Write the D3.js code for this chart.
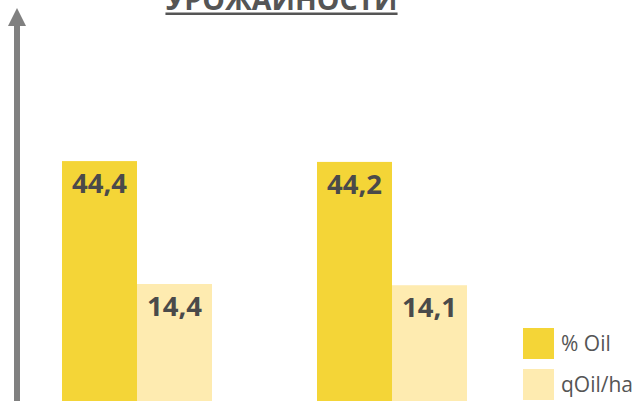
<!DOCTYPE html>
<html lang="ru">
<head>
<meta charset="UTF-8">
<title>Урожайности</title>
<script src="https://d3js.org/d3.v7.min.js"></script>
<style>
  body { margin: 0; background: #fff; }
  text { font-family: "Open Sans", sans-serif; }
  .val { font-weight: 700; fill: #4a4a4a; font-size: 27.5px; }
  .leg { fill: #555; font-size: 21px; }
  .title { font-weight: 700; fill: #555; font-size: 28.5px; }
</style>
</head>
<body>
<div class="chart"></div>
<script>
var groups = ["A", "B"];
var series = ["% Oil", "qOil/ha"];
var oil = [44.4, 44.2];
var qoil = [14.4, 14.1];
var labels = [["44,4", "14,4"], ["44,2", "14,1"]];
var colors = ["#f4d537", "#feebb0"];

var w = 636, h = 401;
var svg = d3.select(".chart").append("svg")
    .attr("width", w).attr("height", h);

// group positions
var x0 = d3.scaleBand().domain(groups).range([62, 467]).paddingInner(105 / 255);
var x1 = d3.scaleBand().domain(series).range([0, x0.bandwidth()]);
var y = d3.scaleLinear().domain([0, 44.3]).range([343, 161.5]);

var rows = groups.map(function(g, i) {
  return { g: g, vals: [oil[i], qoil[i]], lab: labels[i] };
});

var gg = svg.selectAll(".grp").data(rows).enter().append("g")
    .attr("transform", function(d) { return "translate(" + x0(d.g) + ",0)"; });

gg.selectAll("rect").data(function(d) { return d.vals; }).enter().append("rect")
    .attr("x", function(d, i) { return x1(series[i]); })
    .attr("y", function(d) { return y(d); })
    .attr("width", x1.bandwidth())
    .attr("height", function(d) { return h + 10 - y(d); })
    .attr("fill", function(d, i) { return colors[i]; });

gg.selectAll(".val").data(function(d) { return d.vals.map(function(v, i) { return [v, d.lab[i]]; }); })
  .enter().append("text").attr("class", "val")
    .attr("x", function(d, i) { return x1(series[i]) + x1.bandwidth() / 2; })
    .attr("y", function(d) { return y(d[0]) + 32; })
    .attr("text-anchor", "middle")
    .text(function(d) { return d[1]; });

// vertical arrow axis
svg.append("rect").attr("x", 14).attr("y", 22).attr("width", 6).attr("height", h - 22)
    .attr("fill", "#808080");
svg.append("path").attr("d", "M17,8 L26,26 L8,26 Z").attr("fill", "#808080");

// title (top line cut off)
var t = svg.append("text").attr("class", "title")
    .attr("x", 281.5).attr("y", 10).attr("text-anchor", "middle")
    .text("УРОЖАЙНОСТИ");
var bb = t.node().getBBox();
svg.append("rect").attr("x", bb.x).attr("y", 12.5).attr("width", bb.width).attr("height", 2.5)
    .attr("fill", "#555");

// legend
var leg = svg.selectAll(".lg").data(series).enter().append("g")
    .attr("transform", function(d, i) { return "translate(523," + (328 + i * 41) + ")"; });
leg.append("rect").attr("width", 31).attr("height", 31)
    .attr("fill", function(d, i) { return colors[i]; });
leg.append("text").attr("class", "leg").attr("x", 38).attr("y", 23)
    .text(function(d) { return d; });
</script>
</body>
</html>
